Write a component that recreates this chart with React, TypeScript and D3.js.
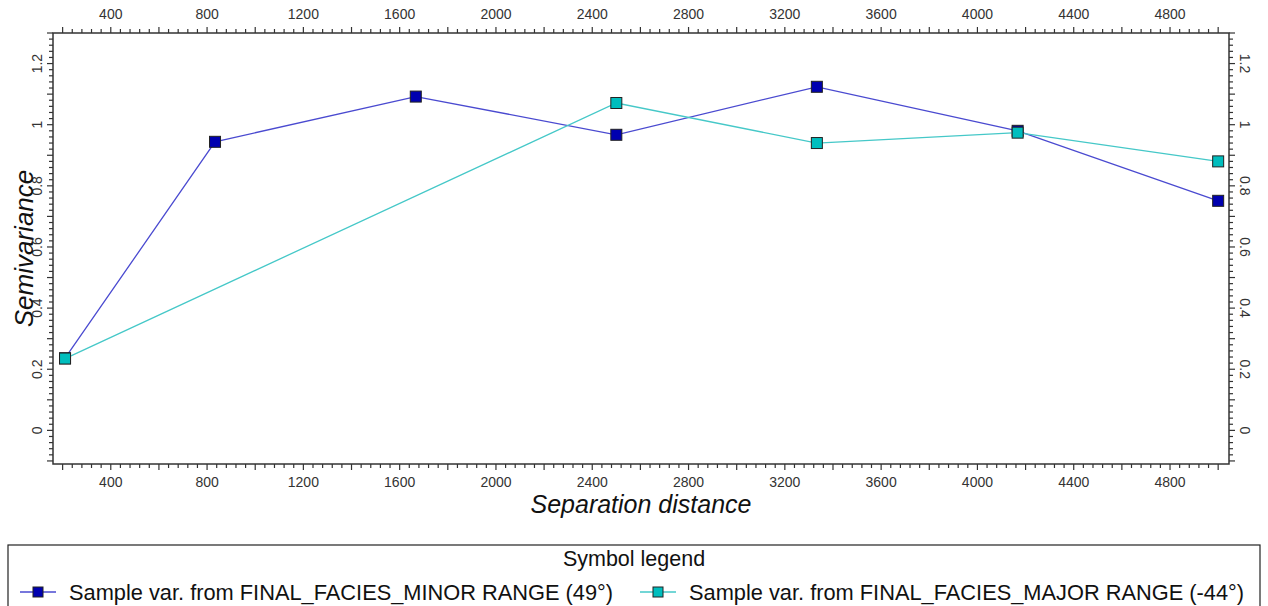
import * as React from 'react';
import * as d3 from 'd3';

// lag distances and semivariance
const minorLag = [210, 833, 1667, 2500, 3333, 4167, 5000];
const minorGamma = [0.236, 0.944, 1.092, 0.967, 1.124, 0.98, 0.751];
const majorLag = [210, 2500, 3333, 4167, 5000];
const majorGamma = [0.235, 1.071, 0.94, 0.974, 0.88];

const seriesNames = [
  'Sample var. from FINAL_FACIES_MINOR RANGE (49°)',
  'Sample var. from FINAL_FACIES_MAJOR RANGE (-44°)',
];
const xTickLabels = [400, 800, 1200, 1600, 2000, 2400, 2800, 3200, 3600, 4000, 4400, 4800];
const yTickLabels = [0, 0.2, 0.4, 0.6, 0.8, 1, 1.2];

const W = 1268;
const H = 606;
const frame = { left: 53, right: 1229, top: 33, bottom: 464 };
const font = 'Liberation Sans, Arial, sans-serif';
const axisColor = '#333';

const minorColor = { fill: '#0000B0', line: '#4a4ad0' };
const majorColor = { fill: '#00BEBE', line: '#45c8c8' };

const x = d3.scaleLinear().domain([160, 5045]).range([frame.left, frame.right]);
const y = d3.scaleLinear().domain([-0.11, 1.3]).range([frame.bottom, frame.top]);
const fmt = d3.format('~g');

interface Pt {
  lag: number;
  gamma: number;
}

const toPts = (lags: number[], gammas: number[]): Pt[] =>
  lags.map((lag, i) => ({ lag, gamma: gammas[i] }));

const line = d3
  .line<Pt>()
  .x((d) => x(d.lag))
  .y((d) => y(d.gamma));

const Marker = ({ cx, cy, fill, size }: { cx: number; cy: number; fill: string; size: number }) => (
  <rect
    x={cx - size / 2}
    y={cy - size / 2}
    width={size}
    height={size}
    fill={fill}
    stroke="#222"
    strokeWidth={1}
  />
);

const App = () => {
  const series = [
    { pts: toPts(minorLag, minorGamma), color: minorColor },
    { pts: toPts(majorLag, majorGamma), color: majorColor },
  ];

  // tick sets: minor every 40 / 0.02, longer every 200 / 0.1
  const xMinor = d3.range(200, 5001, 40).filter((v) => x(v) <= frame.right);
  const yMinor = d3.range(-100, 1301, 20).map((v) => v / 1000).filter((v) => y(v) >= frame.top && y(v) <= frame.bottom);
  const isLongX = (v: number) => Math.round(v) % 200 === 0;
  const isLongY = (v: number) => Math.abs(Math.round(v * 100)) % 10 === 0;

  return (
    <div style={{ position: 'absolute', left: 0, top: 0 }}>
      <svg width={W} height={H} style={{ display: 'block', background: '#fff' }}>
        {/* frame */}
        <rect
          x={frame.left}
          y={frame.top}
          width={frame.right - frame.left}
          height={frame.bottom - frame.top}
          fill="none"
          stroke={axisColor}
          strokeWidth={1.5}
        />

        {/* x ticks, top and bottom */}
        {xMinor.map((v) => {
          const len = isLongX(v) ? 6 : 4;
          return (
            <g key={'xt' + v} stroke={axisColor} strokeWidth={1.2}>
              <line x1={x(v)} x2={x(v)} y1={frame.top} y2={frame.top - len} />
              <line x1={x(v)} x2={x(v)} y1={frame.bottom} y2={frame.bottom + len} />
            </g>
          );
        })}
        {xTickLabels.map((v) => (
          <g key={'xl' + v} fontFamily={font} fontSize={14} fill={axisColor} textAnchor="middle">
            <text x={x(v)} y={frame.top - 14}>{v}</text>
            <text x={x(v)} y={frame.bottom + 23}>{v}</text>
          </g>
        ))}

        {/* y ticks, left and right */}
        {yMinor.map((v) => {
          const len = isLongY(v) ? 6 : 4;
          return (
            <g key={'yt' + v} stroke={axisColor} strokeWidth={1.2}>
              <line x1={frame.left} x2={frame.left - len} y1={y(v)} y2={y(v)} />
              <line x1={frame.right} x2={frame.right + len} y1={y(v)} y2={y(v)} />
            </g>
          );
        })}
        {yTickLabels.map((v) => (
          <g key={'yl' + v} fontFamily={font} fontSize={14} fill={axisColor} textAnchor="middle">
            <text transform={`translate(${frame.left - 11}, ${y(v)}) rotate(-90)`}>{fmt(v)}</text>
            <text transform={`translate(${frame.right + 11}, ${y(v)}) rotate(90)`}>{fmt(v)}</text>
          </g>
        ))}

        {/* axis titles */}
        <text
          transform={`translate(33, ${(frame.top + frame.bottom) / 2}) rotate(-90)`}
          textAnchor="middle"
          fontFamily={font}
          fontStyle="italic"
          fontSize={26}
          fill="#111"
        >
          Semivariance
        </text>
        <text
          x={(frame.left + frame.right) / 2}
          y={513}
          textAnchor="middle"
          fontFamily={font}
          fontStyle="italic"
          fontSize={25}
          fill="#111"
        >
          Separation distance
        </text>

        {/* series */}
        {series.map((s, i) => (
          <g key={'s' + i}>
            <path d={line(s.pts) || ''} fill="none" stroke={s.color.line} strokeWidth={1.3} />
            {s.pts.map((p, j) => (
              <Marker key={j} cx={x(p.lag)} cy={y(p.gamma)} fill={s.color.fill} size={11} />
            ))}
          </g>
        ))}

        {/* legend */}
        <rect x={8} y={545} width={1252} height={70} fill="none" stroke="#222" strokeWidth={1.2} />
        <text x={634} y={566} textAnchor="middle" fontFamily={font} fontSize={21.5} fill="#111">
          Symbol legend
        </text>
        {[
          { x0: 20, color: minorColor, name: seriesNames[0] },
          { x0: 640, color: majorColor, name: seriesNames[1] },
        ].map((item, i) => (
          <g key={'lg' + i}>
            <line x1={item.x0} x2={item.x0 + 36} y1={592} y2={592} stroke={item.color.line} strokeWidth={1.5} />
            <Marker cx={item.x0 + 18} cy={592} fill={item.color.fill} size={10} />
            <text x={item.x0 + 49} y={600} fontFamily={font} fontSize={21.8} fill="#111">
              {item.name}
            </text>
          </g>
        ))}
      </svg>
    </div>
  );
};

export default App;
